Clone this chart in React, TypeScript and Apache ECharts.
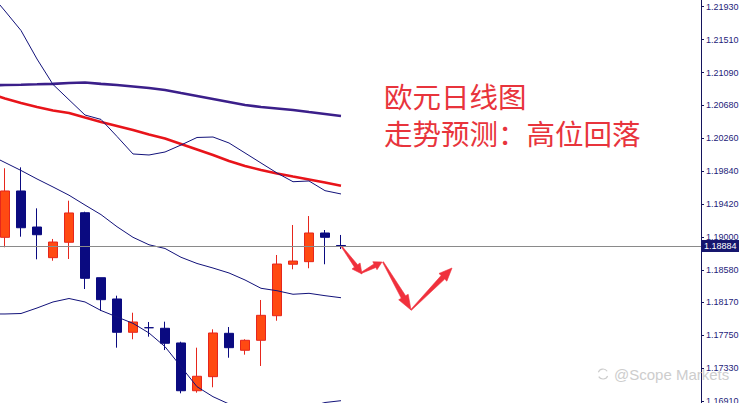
import React, { useEffect, useRef } from "react";
import * as echarts from "echarts";

// ---- data ----
const categories: string[] = Array.from({ length: 45 }, (_, i) => `D${i}`);

// [open, close, low, high]
const ohlc: (number[] | string)[] = [
  "-",
  [1.18994, 1.19584, 1.18867, 1.19873],
  [1.19584, 1.19116, 1.19002, 1.19885],
  [1.19125, 1.19027, 1.18714, 1.19363],
  [1.18735, 1.18934, 1.18696, 1.18973],
  [1.18931, 1.19304, 1.18718, 1.1946],
  [1.19307, 1.18472, 1.18336, 1.1932],
  [1.1848, 1.182, 1.18056, 1.1848],
  [1.18209, 1.17785, 1.17589, 1.18251],
  [1.17785, 1.17916, 1.17696, 1.18034],
  [1.17843, 1.17843, 1.17729, 1.17916],
  [1.17836, 1.17645, 1.17559, 1.1792],
  [1.17649, 1.17041, 1.17008, 1.17665],
  [1.17041, 1.17225, 1.17016, 1.17589],
  [1.1722, 1.17776, 1.17085, 1.17823],
  [1.17772, 1.17589, 1.17461, 1.17852],
  [1.17556, 1.17683, 1.175, 1.17696],
  [1.17683, 1.18001, 1.17356, 1.18196],
  [1.17996, 1.18654, 1.17932, 1.18769],
  [1.18651, 1.18692, 1.18587, 1.19151],
  [1.18684, 1.19049, 1.186, 1.19265],
  [1.19049, 1.18994, 1.18651, 1.19087],
  [1.1889, 1.18884, 1.18845, 1.19024],
];

const maSlow = [
  1.20927, 1.20933, 1.20937, 1.20942, 1.20948, 1.20959, 1.20965, 1.20948,
  1.20933, 1.20914, 1.20895, 1.2087, 1.20831, 1.20793, 1.20755, 1.20717,
  1.20679, 1.20653, 1.20634, 1.20615, 1.20589, 1.20564, 1.20539,
];

const maMid = [
  1.20825, 1.20761, 1.20704, 1.20653, 1.20609, 1.20577, 1.20519, 1.20462,
  1.20411, 1.2036, 1.20303, 1.20252, 1.20182, 1.20112, 1.20042, 1.19966,
  1.19902, 1.19851, 1.19807, 1.19768, 1.1973, 1.19692, 1.19651,
];

const bbUpper = [
  1.22117, 1.21875, 1.21627, 1.21264, 1.2094, 1.20745, 1.20551, 1.20495,
  1.20278, 1.20055, 1.20042, 1.2008, 1.20169, 1.20265, 1.20271, 1.20195,
  1.20068, 1.1994, 1.19813, 1.19702, 1.19711, 1.19588, 1.19546,
];

const bbMiddle = [
  1.20048, 1.19946, 1.19845, 1.19737, 1.19635, 1.1953, 1.19405, 1.19283,
  1.19129, 1.18994, 1.18899, 1.18852, 1.1874, 1.18661, 1.18603, 1.1854,
  1.18451, 1.18345, 1.18314, 1.18269, 1.18281, 1.18251, 1.18225,
];

const bbLower = [
  1.18018, 1.18018, 1.18024, 1.18094, 1.18171, 1.18215, 1.18171, 1.18062,
  1.1798, 1.17899, 1.17776, 1.17602, 1.17347, 1.17092, 1.16965, 1.16872,
  1.16796, 1.16745, 1.16732, 1.1677, 1.16834, 1.16891, 1.16914,
];

const yTicks = [
  1.1691, 1.1733, 1.1775, 1.1817, 1.1858, 1.19, 1.1942, 1.1984, 1.2026,
  1.2068, 1.2109, 1.2151, 1.2193,
];

const lastPrice = 1.18884;
const titleLines = ["欧元日线图", "走势预测：高位回落"];
const watermark = "@Scope Markets";

// ---- layout / decoration ----
const W = 739;
const H = 403;
const Y_MIN = 1.168847;
const Y_MAX = 1.220153;

// hand-drawn forecast arrows (pixel decoration)
const arrowSegs = [
  { a: [342, 247], b: [362, 274], w0: 1, w1: 4, hl: 10, hw: 10 },
  { a: [361, 273], b: [382, 262], w0: 1, w1: 4, hl: 8, hw: 9 },
  { a: [383, 262], b: [411, 310], w0: 1, w1: 5, hl: 15, hw: 11 },
  { a: [411, 310], b: [452, 268], w0: 1, w1: 5, hl: 13, hw: 11 },
];

function arrowPts(seg: any): number[][] {
  const [x0, y0] = seg.a;
  const [x1, y1] = seg.b;
  const dx = x1 - x0;
  const dy = y1 - y0;
  const len = Math.hypot(dx, dy);
  const ux = dx / len;
  const uy = dy / len;
  const nx = -uy;
  const ny = ux;
  const bx = x1 - ux * seg.hl;
  const by = y1 - uy * seg.hl;
  return [
    [x0 + (nx * seg.w0) / 2, y0 + (ny * seg.w0) / 2],
    [bx + (nx * seg.w1) / 2, by + (ny * seg.w1) / 2],
    [bx + (nx * seg.hw) / 2, by + (ny * seg.hw) / 2],
    [x1, y1],
    [bx - (nx * seg.hw) / 2, by - (ny * seg.hw) / 2],
    [bx - (nx * seg.w1) / 2, by - (ny * seg.w1) / 2],
    [x0 - (nx * seg.w0) / 2, y0 - (ny * seg.w0) / 2],
  ];
}

const thinLine = (name: string, data: number[]) => ({
  name,
  type: "line",
  data,
  symbol: "none",
  smooth: false,
  z: 3,
  lineStyle: { color: "#12127a", width: 1 },
});

export default function App() {
  const ref = useRef<HTMLDivElement>(null);

  useEffect(() => {
    if (!ref.current) return;
    const chart = echarts.init(ref.current, null, { renderer: "svg" });

    const option: any = {
      animation: false,
      backgroundColor: "#ffffff",
      grid: {
        left: -19,
        top: 0,
        width: 720,
        height: 403,
        containLabel: false,
        outerBoundsMode: "none",
      },
      xAxis: {
        type: "category",
        data: categories,
        boundaryGap: true,
        show: false,
      },
      yAxis: {
        type: "value",
        position: "right",
        min: Y_MIN,
        max: Y_MAX,
        scale: true,
        splitLine: { show: false },
        axisLine: { show: true, lineStyle: { color: "#14145c", width: 1 } },
        axisTick: {
          show: true,
          length: 3,
          customValues: yTicks,
          lineStyle: { color: "#14145c" },
        },
        axisLabel: {
          customValues: yTicks,
          formatter: (v: number) => v.toFixed(5),
          color: "#1c1c7a",
          fontSize: 9,
          fontFamily: "Liberation Sans",
          margin: 5,
        },
      },
      series: [
        {
          name: "EURUSD",
          type: "candlestick",
          data: ohlc,
          barWidth: 10,
          z: 2,
          itemStyle: {
            color: "#ff4a12",
            color0: "#0a0a80",
            borderColor: "#e6261c",
            borderColor0: "#0a0a80",
            borderWidth: 1,
          },
          markLine: {
            silent: true,
            precision: 5,
            symbol: ["none", "none"],
            lineStyle: { color: "#8a8a8a", width: 1, type: "solid" },
            label: {
              show: true,
              position: "end",
              distance: 0,
              formatter: (p: any) => Number(p.value).toFixed(5),
              color: "#ffffff",
              backgroundColor: "#16166e",
              fontSize: 9,
              fontFamily: "Liberation Sans",
              padding: [2, 3, 1, 3],
            },
            data: [{ yAxis: lastPrice }],
          },
        },
        {
          name: "MA slow",
          type: "line",
          data: maSlow,
          symbol: "none",
          z: 3,
          lineStyle: { color: "#3b1f8a", width: 2.6 },
        },
        {
          name: "MA mid",
          type: "line",
          data: maMid,
          symbol: "none",
          z: 3,
          lineStyle: { color: "#e8141a", width: 2.6 },
        },
        thinLine("BB upper", bbUpper),
        thinLine("BB middle", bbMiddle),
        thinLine("BB lower", bbLower),
      ],
      graphic: [
        {
          type: "text",
          x: 384,
          y: 95,
          z: 10,
          style: {
            text: titleLines[0],
            fill: "#e8343c",
            fontSize: 28.5,
            fontFamily: "Noto Sans CJK SC",
            verticalAlign: "middle",
            align: "left",
          },
        },
        {
          type: "text",
          x: 384,
          y: 132.5,
          z: 10,
          style: {
            text: titleLines[1],
            fill: "#e8343c",
            fontSize: 28.5,
            fontFamily: "Noto Sans CJK SC",
            verticalAlign: "middle",
            align: "left",
          },
        },
        {
          type: "text",
          x: 614,
          y: 374,
          z: 1,
          style: {
            text: watermark,
            fill: "#cdcdcd",
            fontSize: 15,
            fontFamily: "Liberation Sans",
            verticalAlign: "middle",
            align: "left",
          },
        },
        {
          type: "arc",
          z: 1,
          shape: { cx: 603, cy: 374, r: 5, startAngle: 0.4, endAngle: 2.6 },
          style: { stroke: "#cdcdcd", fill: "none", lineWidth: 1.2 },
        },
        {
          type: "arc",
          z: 1,
          shape: { cx: 603, cy: 374, r: 5, startAngle: 3.5, endAngle: 5.7 },
          style: { stroke: "#cdcdcd", fill: "none", lineWidth: 1.2 },
        },
        ...arrowSegs.map((s) => ({
          type: "polygon",
          z: 10,
          shape: { points: arrowPts(s) },
          style: { fill: "#f0303c", stroke: "#f0303c", lineWidth: 0.6 },
        })),
      ],
    };

    chart.setOption(option);
    return () => chart.dispose();
  }, []);

  return (
    <div
      ref={ref}
      style={{
        position: "fixed",
        left: 0,
        top: 0,
        width: W,
        height: H,
        background: "#ffffff",
      }}
    />
  );
}
